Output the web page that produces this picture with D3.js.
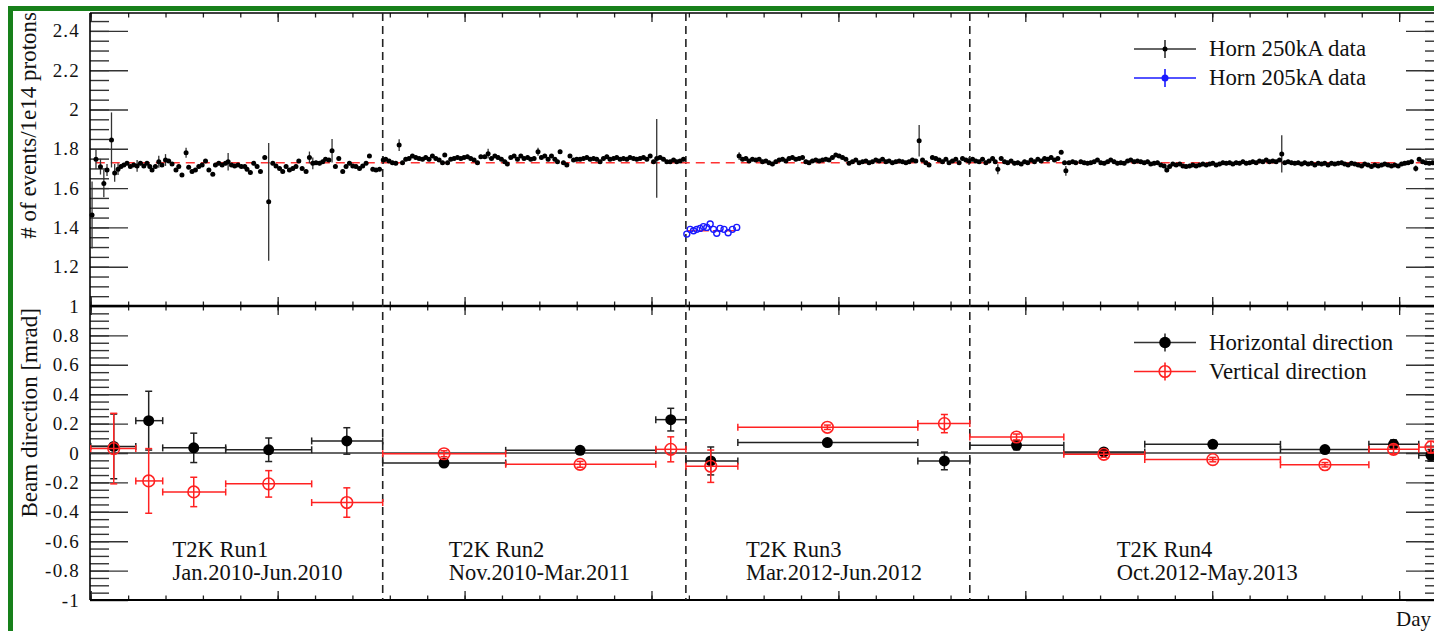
<!DOCTYPE html>
<html><head><meta charset="utf-8">
<script src="https://cdn.jsdelivr.net/npm/d3@7"></script>
<style>
body{margin:0;background:#fff;overflow:hidden}
svg{display:block}
text{font-family:"Liberation Serif","Times New Roman",serif;fill:#111}
</style></head>
<body><svg id="c" width="1434" height="631"></svg>
<script>
// ---------------- DATA ----------------
// run boundaries (day)
const runBoundaries = [156.2, 318.4, 470.3];
// fitted means
const fitMean250 = 1.729;
const fitMean205 = 1.383;
const fitStart250 = 2.7, fitEnd250 = 724;
const fitStart205 = 318.9, fitEnd205 = 345.6;

// Horn 250kA data: [day, events/1e14 protons]
const run1Points = [[0.7,1.463],[2.8,1.747],[5.2,1.709],[7.0,1.624],[8.7,1.692],[11.1,1.845],[12.8,1.677],[14.6,1.696],[16.2,1.71],[17.7,1.717],[19.4,1.726],[21.2,1.71],[23.0,1.717],[24.8,1.713],[26.6,1.726],[28.4,1.713],[30.1,1.726],[31.6,1.71],[32.8,1.692],[34.6,1.71],[36.4,1.734],[38.1,1.717],[40.0,1.743],[41.7,1.738],[43.5,1.722],[45.6,1.692],[47.1,1.71],[48.8,1.666],[51.0,1.78],[52.4,1.706],[54.2,1.685],[56.0,1.692],[57.8,1.71],[59.6,1.717],[61.4,1.738],[63.2,1.692],[65.3,1.671],[66.7,1.717],[68.5,1.726],[70.3,1.717],[72.1,1.726],[73.5,1.734],[75.3,1.717],[77.0,1.713],[78.8,1.717],[80.6,1.71],[82.4,1.71],[83.6,1.696],[85.4,1.679],[87.2,1.726],[89.0,1.71],[90.8,1.685],[93.1,1.756],[95.2,1.53],[97.4,1.726],[99.1,1.713],[101.0,1.70],[102.7,1.685],[104.5,1.71],[106.3,1.692],[108.1,1.70],[109.8,1.71],[111.3,1.738],[113.1,1.70],[115.2,1.685],[117.0,1.756],[118.8,1.726],[120.5,1.729],[122.4,1.726],[124.1,1.734],[125.6,1.747],[127.4,1.743],[129.1,1.79],[130.9,1.71],[132.7,1.751],[134.8,1.685],[136.6,1.71],[138.4,1.726],[140.2,1.713],[141.9,1.71],[143.8,1.70],[145.5,1.713],[147.3,1.726],[149.1,1.763],[150.9,1.696],[152.6,1.692],[154.5,1.696]];
const run2Points = [[156.5,1.743],[157.8,1.747],[159.6,1.738],[161.4,1.729],[163.2,1.726],[165.0,1.819],[166.8,1.729],[168.5,1.747],[170.3,1.751],[172.1,1.763],[173.9,1.756],[175.7,1.751],[177.5,1.747],[179.2,1.756],[181.0,1.747],[182.8,1.763],[184.6,1.751],[186.4,1.743],[188.2,1.729],[189.4,1.768],[190.9,1.729],[192.6,1.747],[194.4,1.751],[196.2,1.756],[198.0,1.751],[199.7,1.756],[201.5,1.76],[203.3,1.751],[205.1,1.743],[206.9,1.729],[208.7,1.76],[210.8,1.76],[212.6,1.775],[214.4,1.751],[216.2,1.763],[217.9,1.756],[219.7,1.747],[221.5,1.734],[222.9,1.722],[224.7,1.756],[226.5,1.763],[228.3,1.747],[230.1,1.763],[231.8,1.751],[233.7,1.756],[235.4,1.747],[237.2,1.751],[239.3,1.785],[241.1,1.756],[242.9,1.763],[244.7,1.747],[246.5,1.763],[248.3,1.747],[249.7,1.734],[251.1,1.785],[252.9,1.729],[254.7,1.717],[256.4,1.763],[258.3,1.743],[260.0,1.747],[261.8,1.747],[263.6,1.751],[265.4,1.756],[267.2,1.747],[269.0,1.751],[270.7,1.747],[272.5,1.734],[274.3,1.751],[276.1,1.76],[277.8,1.747],[279.7,1.751],[281.4,1.756],[283.2,1.747],[285.0,1.751],[286.8,1.747],[288.5,1.756],[290.4,1.751],[292.1,1.747],[293.9,1.751],[295.7,1.756],[297.5,1.747],[299.3,1.763],[301.1,1.734],[302.8,1.751],[304.6,1.756],[306.4,1.747],[308.2,1.734],[310.0,1.734],[311.8,1.743],[313.5,1.734],[315.3,1.738],[317.1,1.747]];
const run3Points = [[346.9,1.763],[348.7,1.747],[350.5,1.751],[352.2,1.738],[354.0,1.747],[355.8,1.743],[357.6,1.747],[359.4,1.734],[361.2,1.738],[362.9,1.729],[364.7,1.722],[366.5,1.734],[368.3,1.743],[370.1,1.747],[371.9,1.738],[373.6,1.751],[375.4,1.756],[377.2,1.747],[379.0,1.751],[380.8,1.756],[382.6,1.734],[384.3,1.729],[386.1,1.738],[387.9,1.743],[389.7,1.738],[391.5,1.743],[393.3,1.747],[395.0,1.743],[396.8,1.756],[398.6,1.768],[400.4,1.763],[402.2,1.756],[404.0,1.747],[405.7,1.726],[407.5,1.734],[409.3,1.743],[411.1,1.729],[412.9,1.734],[414.7,1.738],[416.4,1.729],[418.2,1.734],[420.0,1.743],[421.8,1.738],[423.6,1.747],[425.4,1.734],[427.1,1.738],[428.9,1.729],[430.7,1.734],[432.5,1.738],[434.3,1.734],[436.1,1.729],[437.8,1.734],[439.6,1.743],[441.4,1.738],[443.2,1.841],[445.0,1.743],[446.8,1.729],[448.5,1.717],[450.3,1.756],[452.1,1.751],[453.9,1.743],[455.7,1.734],[457.5,1.747],[459.2,1.729],[461.0,1.738],[462.8,1.747],[464.6,1.729],[466.4,1.751],[468.2,1.743],[469.9,1.738]];
const run4Points = [[471.8,1.747],[473.5,1.738],[475.3,1.734],[477.1,1.747],[478.9,1.729],[480.6,1.738],[482.5,1.751],[483.9,1.734],[485.3,1.696],[487.1,1.751],[488.9,1.734],[490.6,1.729],[492.4,1.738],[494.2,1.726],[496.0,1.729],[497.8,1.722],[499.6,1.734],[501.3,1.729],[503.1,1.743],[504.9,1.734],[506.7,1.747],[508.5,1.738],[510.3,1.751],[512.0,1.747],[513.8,1.756],[515.6,1.743],[517.4,1.751],[519.2,1.782],[521.0,1.729],[521.7,1.688],[523.4,1.729],[525.3,1.734],[527.0,1.729],[529.7,1.734],[531.5,1.729],[533.3,1.726],[535.0,1.729],[536.8,1.734],[538.6,1.743],[540.4,1.729],[542.2,1.726],[544.0,1.734],[545.7,1.743],[547.5,1.734],[549.3,1.726],[551.1,1.729],[552.9,1.726],[554.7,1.738],[556.4,1.743],[558.2,1.734],[560.0,1.738],[561.8,1.734],[563.6,1.729],[565.4,1.734],[567.1,1.722],[568.9,1.726],[570.7,1.729],[572.5,1.717],[574.3,1.713],[575.7,1.692],[577.2,1.71],[578.9,1.722],[580.7,1.717],[582.6,1.722],[584.3,1.713],[586.0,1.71],[587.9,1.713],[589.6,1.717],[591.4,1.713],[593.2,1.717],[595.0,1.722],[596.8,1.717],[598.6,1.722],[600.3,1.726],[602.1,1.717],[603.9,1.722],[605.7,1.729],[607.5,1.726],[609.3,1.729],[611.0,1.722],[612.8,1.729],[614.6,1.726],[616.4,1.734],[618.2,1.726],[620.0,1.729],[621.7,1.734],[623.5,1.729],[625.3,1.738],[627.1,1.734],[628.9,1.743],[630.6,1.734],[632.4,1.738],[634.2,1.734],[636.0,1.743],[637.2,1.774],[638.8,1.729],[640.6,1.734],[642.4,1.729],[644.2,1.726],[646.0,1.729],[647.8,1.722],[649.5,1.729],[651.3,1.722],[653.1,1.726],[654.9,1.717],[656.7,1.726],[658.5,1.722],[660.2,1.726],[662.0,1.717],[663.8,1.726],[665.6,1.722],[667.4,1.726],[669.2,1.729],[670.9,1.722],[672.7,1.717],[674.5,1.726],[676.3,1.722],[678.1,1.717],[679.9,1.713],[681.6,1.722],[683.4,1.717],[685.2,1.71],[687.0,1.717],[688.8,1.713],[690.6,1.717],[692.3,1.722],[694.1,1.717],[695.9,1.713],[697.7,1.717],[699.5,1.713],[701.3,1.722],[703.0,1.726],[704.8,1.729],[706.6,1.734],[708.9,1.70],[710.7,1.747],[712.6,1.734],[714.3,1.729],[716.1,1.726],[717.9,1.729]];
// notable error bars for 250kA data: [day, error]
const horn250Errors = [[0.7,0.17],[2.8,0.05],[5.2,0.04],[7.0,0.07],[8.7,0.03],[11.1,0.14],[12.8,0.045],[14.6,0.03],[24.8,0.03],[36.4,0.03],[40.0,0.03],[51.0,0.025],[73.5,0.045],[95.2,0.3],[117.0,0.03],[118.8,0.03],[129.1,0.06],[156.5,0.02],[165.0,0.03],[212.6,0.025],[239.3,0.02],[302.8,0.2],[346.9,0.02],[443.2,0.08],[469.9,0.02],[485.3,0.025],[521.7,0.025],[575.7,0.012],[637.2,0.095],[708.9,0.015]];
const horn250TypicalError = 0.01;

// Horn 205kA data: [day, events/1e14 protons]
const horn205Points = [[318.9,1.366],[320.7,1.39],[322.5,1.383],[324.2,1.39],[326.0,1.395],[327.8,1.404],[329.6,1.40],[331.4,1.417],[333.2,1.39],[334.9,1.37],[336.7,1.395],[338.8,1.39],[341.0,1.373],[343.3,1.39],[345.6,1.40]];

// Beam direction (lower panel)
const dirDays   = [12.3, 31.0, 55.1, 95.2, 137.0, 189.0, 261.8, 310.3, 331.7, 394.1, 456.7, 495.3, 542.0, 600.3, 660.3, 697.0, 717.0];
const dirDayLow = [0, 24.1, 38.5, 72.2, 118.2, 156.2, 222.0, 302.3, 318.4, 346.2, 442.5, 470.3, 520.6, 563.9, 636.5, 683.8, 710.5];
const dirDayHigh= [24.1, 38.5, 72.2, 118.2, 156.2, 222.0, 302.3, 318.4, 346.2, 442.5, 470.3, 520.6, 563.9, 636.5, 683.8, 710.5, 723];
const horizValues = [0.045, 0.22, 0.035, 0.022, 0.082, -0.068, 0.018, 0.227, -0.054, 0.071, -0.054, 0.052, 0.007, 0.059, 0.023, 0.059, -0.016];
const horizErrors = [0.22, 0.2, 0.1, 0.08, 0.09, 0.02, 0.02, 0.077, 0.095, 0.012, 0.06, 0.03, 0.02, 0.015, 0.015, 0.03, 0.04];
const vertValues  = [0.03, -0.19, -0.265, -0.21, -0.337, -0.005, -0.077, 0.025, -0.09, 0.175, 0.2, 0.109, -0.009, -0.045, -0.08, 0.025, 0.04];
const vertErrors  = [0.24, 0.22, 0.1, 0.09, 0.1, 0.02, 0.02, 0.085, 0.11, 0.015, 0.062, 0.02, 0.02, 0.015, 0.015, 0.03, 0.04];

// ticks & labels
const upperTickValues = [1.2, 1.4, 1.6, 1.8, 2.0, 2.2, 2.4];
const lowerTickValues = [-1, -0.8, -0.6, -0.4, -0.2, 0, 0.2, 0.4, 0.6, 0.8, 1];
const dayMajorTicks = [0, 100, 200, 300, 400, 500, 600, 700];
const runNames  = ["T2K Run1", "T2K Run2", "T2K Run3", "T2K Run4"];
const runPeriods = ["Jan.2010-Jun.2010", "Nov.2010-Mar.2011", "Mar.2012-Jun.2012", "Oct.2012-May.2013"];
const runLabelDays = [43.8, 191.5, 350.5, 548.9];
const upperLegend = ["Horn 250kA data", "Horn 205kA data"];
const lowerLegend = ["Horizontal direction", "Vertical direction"];

// ---------------- DRAW ----------------
const svg = d3.select('#c');
const L = 90, R = 1444, T = 13, MID = 306, B = 600;
const x = d3.scaleLinear().domain([-0.4, 724]).range([L, R]);
const yT = d3.scaleLinear().domain([1, 2.491]).range([MID, T]);
const yB = d3.scaleLinear().domain([-1, 1]).range([B, MID]);
const fmt = d => String(Math.round(d * 10) / 10);

svg.append('rect').attr('width', 1434).attr('height', 631).attr('fill', '#fff');
// green outer frame
svg.append('rect').attr('x', 8).attr('y', 6).attr('width', 1430).attr('height', 5).attr('fill', '#17801a');
svg.append('rect').attr('x', 8).attr('y', 6).attr('width', 5).attr('height', 630).attr('fill', '#17801a');

const minorDays = d3.range(0, 724, 20);
function xTicks(y, dir) {
  const maker = dir > 0 ? d3.axisBottom : d3.axisTop;
  const g1 = svg.append('g').attr('transform', `translate(0,${y})`)
    .call(maker(x).tickValues(minorDays).tickSize(4.5).tickFormat(''));
  const g2 = svg.append('g').attr('transform', `translate(0,${y})`)
    .call(maker(x).tickValues(dayMajorTicks).tickSize(9).tickFormat(''));
  [g1, g2].forEach(g => { g.select('.domain').remove(); g.selectAll('line').attr('stroke', '#222').attr('stroke-width', 1.3); });
}
xTicks(T, 1); xTicks(MID, -1); xTicks(MID, 1); xTicks(B, -1);

function yTicks(scale, majors, minors, labels) {
  const gl = svg.append('g').attr('transform', `translate(${L},0)`)
    .call(d3.axisLeft(scale).tickValues(minors).tickSize(-19).tickFormat(''));
  const gl2 = svg.append('g').attr('transform', `translate(${L},0)`)
    .call(d3.axisLeft(scale).tickValues(majors).tickSize(-38).tickPadding(10).tickFormat(labels ? fmt : ''));
  const gr = svg.append('g').attr('transform', `translate(${R},0)`)
    .call(d3.axisRight(scale).tickValues(minors).tickSize(-19).tickFormat(''));
  const gr2 = svg.append('g').attr('transform', `translate(${R},0)`)
    .call(d3.axisRight(scale).tickValues(majors).tickSize(-38).tickFormat(''));
  [gl, gl2, gr, gr2].forEach(g => { g.select('.domain').remove(); g.selectAll('line').attr('stroke', '#333').attr('stroke-width', 1.4); });
  gl2.selectAll('text').attr('font-size', 19).attr('font-family', '"Liberation Serif",serif').attr('fill', '#111').attr('letter-spacing', 1.2);
}
yTicks(yT, upperTickValues, d3.range(1.05, 2.49, 0.05), true);
yTicks(yB, lowerTickValues, d3.range(-0.95, 1.0, 0.05), true);

// frame
const frame = svg.append('g').attr('stroke', '#000');
frame.append('line').attr('x1', L).attr('x2', R).attr('y1', T).attr('y2', T).attr('stroke-width', 1.6);
frame.append('line').attr('x1', L).attr('x2', R).attr('y1', MID).attr('y2', MID).attr('stroke-width', 2.6);
frame.append('line').attr('x1', L).attr('x2', R).attr('y1', B).attr('y2', B).attr('stroke-width', 2);
frame.append('line').attr('x1', L).attr('x2', L).attr('y1', T).attr('y2', B).attr('stroke-width', 1.6);
frame.append('line').attr('x1', R).attr('x2', R).attr('y1', T).attr('y2', B).attr('stroke-width', 1.6);

// run boundaries
svg.append('g').selectAll('line').data(runBoundaries).join('line')
  .attr('x1', d => x(d)).attr('x2', d => x(d)).attr('y1', T).attr('y2', B)
  .attr('stroke', '#222').attr('stroke-width', 1.6).attr('stroke-dasharray', '8,5');

// ---- upper panel ----
const up = svg.append('g');
up.append('line').attr('x1', x(fitStart250)).attr('x2', x(fitEnd250)).attr('y1', yT(fitMean250)).attr('y2', yT(fitMean250))
  .attr('stroke', '#f33').attr('stroke-width', 1.5).attr('stroke-dasharray', '9,6');
up.append('line').attr('x1', x(fitStart205)).attr('x2', x(fitEnd205)).attr('y1', yT(fitMean205)).attr('y2', yT(fitMean205))
  .attr('stroke', '#f33').attr('stroke-width', 1.5).attr('stroke-dasharray', '9,4');

const errMap = new Map(horn250Errors.map(d => [d[0], d[1]]));
const pts250 = [].concat(run1Points, run2Points, run3Points, run4Points)
  .map(d => ({day: d[0], v: d[1], e: errMap.has(d[0]) ? errMap.get(d[0]) : horn250TypicalError}));
up.append('g').selectAll('line').data(pts250).join('line')
  .attr('x1', d => x(d.day)).attr('x2', d => x(d.day))
  .attr('y1', d => yT(d.v - d.e)).attr('y2', d => yT(d.v + d.e))
  .attr('stroke', '#333').attr('stroke-width', 1.3);
up.append('g').selectAll('circle').data(pts250).join('circle')
  .attr('cx', d => x(d.day)).attr('cy', d => yT(d.v)).attr('r', 2.5).attr('fill', '#000');
up.append('g').selectAll('circle').data(horn205Points).join('circle')
  .attr('cx', d => x(d[0])).attr('cy', d => yT(d[1])).attr('r', 3)
  .attr('fill', 'none').attr('stroke', '#1a1aff').attr('stroke-width', 1.4);

// ---- lower panel ----
const lo = svg.append('g');
lo.append('line').attr('x1', L).attr('x2', R).attr('y1', yB(0)).attr('y2', yB(0)).attr('stroke', '#333').attr('stroke-width', 1.5);

function dirSeries(values, errors, color, open) {
  const g = lo.append('g');
  const data = dirDays.map((d, i) => ({d, v: values[i], e: errors[i], lo: dirDayLow[i], hi: dirDayHigh[i]}));
  const cap = 3.5;
  g.selectAll('.hx').data(data).join('line').attr('class', 'hx')
    .attr('x1', d => x(d.lo)).attr('x2', d => x(d.hi)).attr('y1', d => yB(d.v)).attr('y2', d => yB(d.v))
    .attr('stroke', color).attr('stroke-width', 1.5);
  g.selectAll('.cl').data(data).join('line').attr('class', 'cl')
    .attr('x1', d => x(d.lo)).attr('x2', d => x(d.lo)).attr('y1', d => yB(d.v) - cap).attr('y2', d => yB(d.v) + cap)
    .attr('stroke', color).attr('stroke-width', 1.5);
  g.selectAll('.cr').data(data).join('line').attr('class', 'cr')
    .attr('x1', d => x(d.hi)).attr('x2', d => x(d.hi)).attr('y1', d => yB(d.v) - cap).attr('y2', d => yB(d.v) + cap)
    .attr('stroke', color).attr('stroke-width', 1.5);
  g.selectAll('.vy').data(data).join('line').attr('class', 'vy')
    .attr('x1', d => x(d.d)).attr('x2', d => x(d.d)).attr('y1', d => yB(d.v - d.e)).attr('y2', d => yB(d.v + d.e))
    .attr('stroke', color).attr('stroke-width', 1.5);
  g.selectAll('.ct').data(data).join('line').attr('class', 'ct')
    .attr('x1', d => x(d.d) - cap).attr('x2', d => x(d.d) + cap).attr('y1', d => yB(d.v + d.e)).attr('y2', d => yB(d.v + d.e))
    .attr('stroke', color).attr('stroke-width', 1.5);
  g.selectAll('.cb').data(data).join('line').attr('class', 'cb')
    .attr('x1', d => x(d.d) - cap).attr('x2', d => x(d.d) + cap).attr('y1', d => yB(d.v - d.e)).attr('y2', d => yB(d.v - d.e))
    .attr('stroke', color).attr('stroke-width', 1.5);
  g.selectAll('circle').data(data).join('circle')
    .attr('cx', d => x(d.d)).attr('cy', d => yB(d.v)).attr('r', open ? 5.8 : 5.5)
    .attr('fill', open ? 'none' : '#000').attr('stroke', open ? color : 'none').attr('stroke-width', 1.6);
}
dirSeries(horizValues, horizErrors, '#222', false);
dirSeries(vertValues, vertErrors, '#f22', true);

// run labels
const rl = svg.append('g').attr('font-size', 22.5);
rl.selectAll('.n').data(runNames).join('text').attr('class', 'n')
  .attr('x', (d, i) => x(runLabelDays[i])).attr('y', 557).text(d => d);
rl.selectAll('.p').data(runPeriods).join('text').attr('class', 'p')
  .attr('x', (d, i) => x(runLabelDays[i])).attr('y', 580).text(d => d);

// legends
function legend(y0, items) {
  items.forEach((it, i) => {
    const y = y0 + i * 29;
    const g = svg.append('g');
    g.append('line').attr('x1', 1134).attr('x2', 1196).attr('y1', y).attr('y2', y).attr('stroke', it.color).attr('stroke-width', 1.6);
    g.append('line').attr('x1', 1165).attr('x2', 1165).attr('y1', y - 9).attr('y2', y + 9).attr('stroke', it.color).attr('stroke-width', 1.6);
    g.append('circle').attr('cx', 1165).attr('cy', y).attr('r', it.r)
      .attr('fill', it.open ? 'none' : it.fill).attr('stroke', it.open ? it.color : 'none').attr('stroke-width', 1.6);
    g.append('text').attr('x', 1209).attr('y', y + 7).attr('font-size', 22.8).text(it.label);
  });
}
legend(49, [
  {label: upperLegend[0], color: '#333', fill: '#000', r: 2.5},
  {label: upperLegend[1], color: '#1a1aff', fill: '#1a1aff', r: 3.5}
]);
legend(342.5, [
  {label: lowerLegend[0], color: '#333', fill: '#000', r: 5.8},
  {label: lowerLegend[1], color: '#f22', fill: 'none', r: 5.8, open: true}
]);

// axis titles
svg.append('text').attr('transform', 'translate(36,12) rotate(-90)').attr('text-anchor', 'end')
  .attr('font-size', 23).text('# of events/1e14 protons');
svg.append('text').attr('transform', 'translate(37,308) rotate(-90)').attr('text-anchor', 'end')
  .attr('font-size', 23).text('Beam direction [mrad]');
svg.append('text').attr('x', 1396).attr('y', 626).attr('font-size', 21).text('Day');
</script></body></html>
